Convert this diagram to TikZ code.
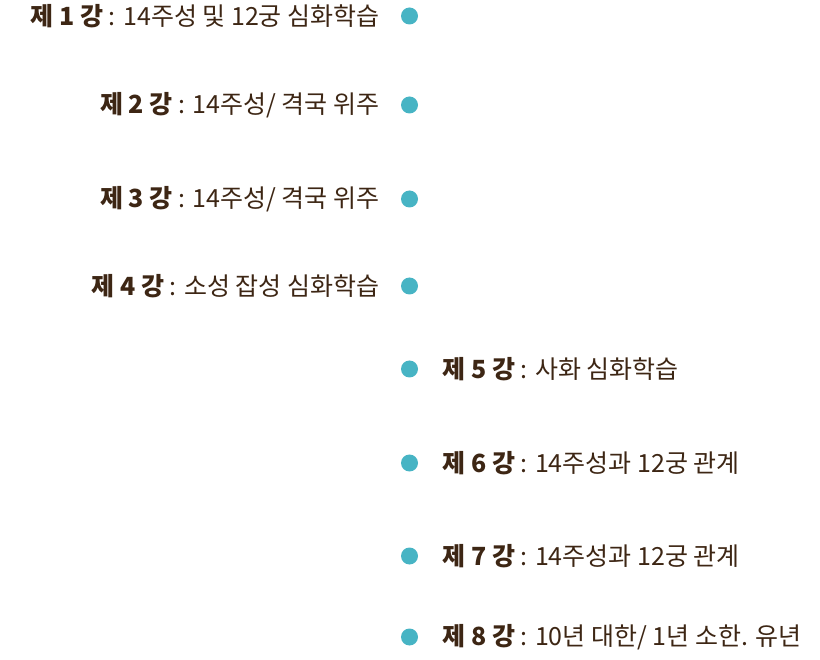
\documentclass[tikz,border=0pt]{standalone}
\usepackage{fontspec}
\setmainfont{Noto Sans CJK KR}
\usetikzlibrary{positioning}
\definecolor{dotcyan}{HTML}{47B4C4}
\definecolor{textbrown}{HTML}{3D2614}

\begin{document}
\begin{tikzpicture}[x=1pt, y=-1pt,
	dot/.style={circle, fill=dotcyan, inner sep=0pt, minimum size=17pt},
	lecture/.style={text=textbrown, font=\fontsize{25}{29}\selectfont, inner sep=0pt}]
			%%%%% START %%%%%
			
			\useasboundingbox (0, 0) rectangle (820, 660);
			
			\node[dot] (dot1) at (409.5, 16) {};
			\node[dot] (dot2) at (409.5, 105) {};
			\node[dot] (dot3) at (409.5, 199) {};
			\node[dot] (dot4) at (409.5, 286) {};
			\node[dot] (dot5) at (409.5, 369) {};
			\node[dot] (dot6) at (409.5, 463) {};
			\node[dot] (dot7) at (409.5, 556) {};
			\node[dot] (dot8) at (409.5, 637) {};
			
			\node[lecture, left=21pt of dot1] (lbl1) {\textbf{제 1 강} : 14주성 및 12궁 심화학습};
			\node[lecture, left=21pt of dot2] (lbl2) {\textbf{제 2 강} : 14주성/ 격국 위주};
			\node[lecture, left=21pt of dot3] (lbl3) {\textbf{제 3 강} : 14주성/ 격국 위주};
			\node[lecture, left=21pt of dot4] (lbl4) {\textbf{제 4 강} : 소성 잡성 심화학습};
			
			\node[lecture, right=24pt of dot5] (lbl5) {\textbf{제 5 강} : 사화 심화학습};
			\node[lecture, right=24pt of dot6] (lbl6) {\textbf{제 6 강} : 14주성과 12궁 관계};
			\node[lecture, right=24pt of dot7] (lbl7) {\textbf{제 7 강} : 14주성과 12궁 관계};
			\node[lecture, right=24pt of dot8] (lbl8) {\textbf{제 8 강} : 10년 대한/ 1년 소한. 유년};
			
			%%%%% END %%%%%
\end{tikzpicture}
\end{document}
